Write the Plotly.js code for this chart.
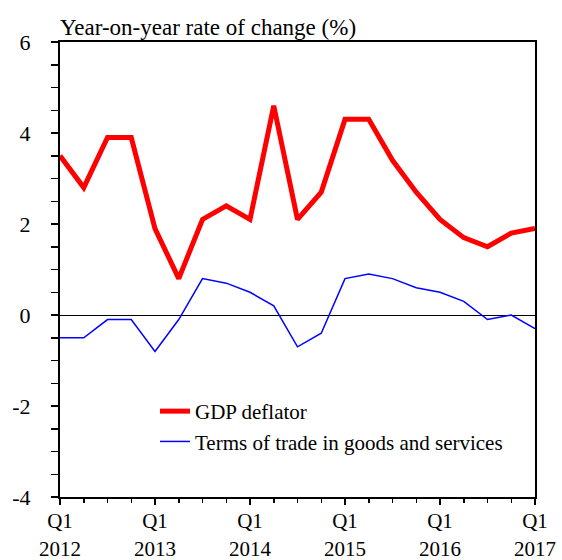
<!DOCTYPE html>
<html>
<head>
<meta charset="utf-8">
<script src="https://cdn.plot.ly/plotly-3.0.1.min.js"></script>
<style>html,body{margin:0;padding:0;background:#fff;}#chart{width:562px;height:560px;}</style>
</head>
<body>
<div id="chart"></div>
<script>
var quarters = ["2012Q1","2012Q2","2012Q3","2012Q4","2013Q1","2013Q2","2013Q3","2013Q4","2014Q1","2014Q2","2014Q3","2014Q4","2015Q1","2015Q2","2015Q3","2015Q4","2016Q1","2016Q2","2016Q3","2016Q4","2017Q1"];
var gdpDeflator = [3.5, 2.8, 3.9, 3.9, 1.9, 0.8, 2.1, 2.4, 2.1, 4.6, 2.1, 2.7, 4.3, 4.3, 3.4, 2.7, 2.1, 1.7, 1.5, 1.8, 1.9];
var termsOfTrade = [-0.5, -0.5, -0.1, -0.1, -0.8, -0.1, 0.8, 0.7, 0.5, 0.2, -0.7, -0.4, 0.8, 0.9, 0.8, 0.6, 0.5, 0.3, -0.1, 0.0, -0.3];
var xTickLabels = ["Q1<br>2012","Q1<br>2013","Q1<br>2014","Q1<br>2015","Q1<br>2016","Q1<br>2017"];
var yTickLabels = ["-4","-2","0","2","4","6"];

var xIdx = quarters.map(function(q, i){ return i; });
var xTickVals = xTickLabels.map(function(t, i){ return i * 4; });
var yTickVals = yTickLabels.map(function(t){ return parseFloat(t); });

var FONT = '"Liberation Serif", "Times New Roman", serif';

var traces = [
  {x: xIdx, y: gdpDeflator, type: 'scatter', mode: 'lines', name: 'GDP deflator',
   line: {color: '#ff0000', width: 5}},
  {x: xIdx, y: termsOfTrade, type: 'scatter', mode: 'lines', name: 'Terms of trade in goods and services',
   line: {color: '#0000ff', width: 1.5}}
];

var layout = {
  width: 562, height: 560,
  margin: {l: 60, r: 27, t: 42, b: 63},
  paper_bgcolor: '#ffffff', plot_bgcolor: '#ffffff',
  font: {family: FONT, size: 21, color: '#000'},
  showlegend: true,
  legend: {x: 0.2, xanchor: 'left', y: 0.233, yanchor: 'top', bgcolor: 'rgba(0,0,0,0)',
           font: {family: FONT, size: 21, color: '#000'}},
  xaxis: {
    range: [0, 20], showgrid: false, zeroline: false,
    showline: true, linecolor: '#000', linewidth: 2, mirror: true,
    tickmode: 'array', tickvals: xTickVals, ticktext: xTickLabels,
    ticks: 'outside', ticklen: 6, tickwidth: 1.5, tickcolor: '#000',
    minor: {dtick: 1, tick0: 0, ticks: 'outside', ticklen: 4, tickwidth: 1.5, tickcolor: '#000', showgrid: false},
    tickfont: {family: FONT, size: 21, color: '#000'},
    ticklabelstandoff: -2,
    fixedrange: true
  },
  yaxis: {
    range: [-4, 6], showgrid: false,
    zeroline: true, zerolinecolor: '#000', zerolinewidth: 1,
    showline: true, linecolor: '#000', linewidth: 2, mirror: true,
    tickmode: 'array', tickvals: yTickVals, ticktext: yTickLabels,
    ticks: 'outside', ticklen: 7, tickwidth: 1.5, tickcolor: '#000',
    minor: {dtick: 0.5, tick0: 0, ticks: 'outside', ticklen: 7, tickwidth: 1.5, tickcolor: '#000', showgrid: false},
    tickfont: {family: FONT, size: 22, color: '#000'},
    ticklabelstandoff: 16,
    fixedrange: true
  },
  annotations: [{
    text: 'Year-on-year rate of change (%)', xref: 'paper', yref: 'paper',
    x: 0, y: 1, xanchor: 'left', yanchor: 'bottom', showarrow: false,
    font: {family: FONT, size: 23, color: '#000'}, xshift: -2, yshift: 0
  }]
};

Plotly.newPlot('chart', traces, layout, {displayModeBar: false, staticPlot: true});
</script>
</body>
</html>
